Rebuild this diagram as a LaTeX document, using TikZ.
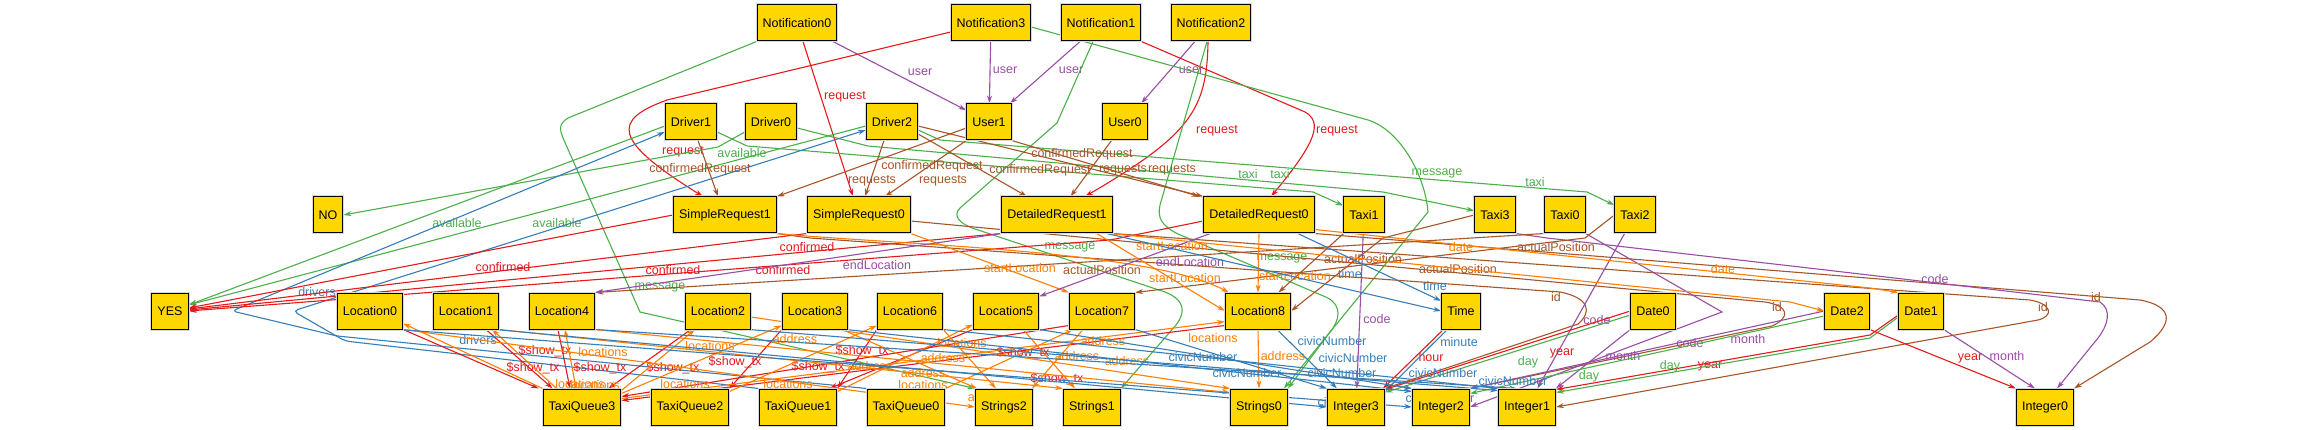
\documentclass[tikz,border=0pt]{standalone}
\usepackage{fontspec}
\setmainfont{Liberation Sans}
\usetikzlibrary{arrows.meta}
\definecolor{gold}{RGB}{255,215,0}
\definecolor{xR}{RGB}{228,26,28}
\definecolor{xB}{RGB}{55,126,184}
\definecolor{xG}{RGB}{77,175,74}
\definecolor{xP}{RGB}{152,78,163}
\definecolor{xO}{RGB}{255,127,0}
\definecolor{xN}{RGB}{166,86,40}
\pgfdeclarelayer{back}
\pgfdeclarelayer{edges}
\pgfsetlayers{back,edges,main}
\tikzset{
  box/.style={draw=black, line width=1pt, fill=gold, minimum height=36pt, inner xsep=5.5pt, inner ysep=0pt,
    font=\fontsize{12.5}{14}\selectfont, text=black, preaction={draw=black!15, line width=3pt}},
  edg/.style={line width=1.1pt, -{Stealth[length=8pt,width=5pt]}},
  lab/.style={font=\fontsize{12.5}{14}\selectfont, inner sep=0pt},
  cR/.style={color=xR}, cB/.style={color=xB}, cG/.style={color=xG},
  cP/.style={color=xP}, cO/.style={color=xO}, cN/.style={color=xN}
}
\begin{document}
\begin{tikzpicture}[x=1pt,y=-1pt]
\useasboundingbox (0,0) rectangle (2306,430);
\begin{pgfonlayer}{back}
\fill[white] (0,0) rectangle (2306,430);
\end{pgfonlayer}
% ---------------- nodes
\node[box] (N0) at (797,23) {Notification0};
\node[box] (N3) at (991,23) {Notification3};
\node[box] (N1) at (1101,23) {Notification1};
\node[box] (N2) at (1211,23) {Notification2};
\node[box] (D1) at (691,122) {Driver1};
\node[box] (D0) at (771,122) {Driver0};
\node[box] (D2) at (892,122) {Driver2};
\node[box] (U1) at (989,122) {User1};
\node[box] (U0) at (1125,122) {User0};
\node[box] (NO) at (328,215) {NO};
\node[box] (SR1) at (725,215) {SimpleRequest1};
\node[box] (SR0) at (859,215) {SimpleRequest0};
\node[box] (DR1) at (1057,215) {DetailedRequest1};
\node[box] (DR0) at (1259,215) {DetailedRequest0};
\node[box] (T1) at (1364,215) {Taxi1};
\node[box] (T3) at (1495,215) {Taxi3};
\node[box] (T0) at (1565,215) {Taxi0};
\node[box] (T2) at (1635,215) {Taxi2};
\node[box] (YES) at (170,311) {YES};
\node[box] (L0) at (370,311) {Location0};
\node[box] (L1) at (466,311) {Location1};
\node[box] (L4) at (562,311) {Location4};
\node[box] (L2) at (718,311) {Location2};
\node[box] (L3) at (815,311) {Location3};
\node[box] (L6) at (910,311) {Location6};
\node[box] (L5) at (1006,311) {Location5};
\node[box] (L7) at (1102,311) {Location7};
\node[box] (L8) at (1258,311) {Location8};
\node[box] (Tm) at (1461,311) {Time};
\node[box] (Dt0) at (1653,311) {Date0};
\node[box] (Dt2) at (1847,311) {Date2};
\node[box] (Dt1) at (1921,311) {Date1};
\node[box] (Q3) at (582,407) {TaxiQueue3};
\node[box] (Q2) at (690,407) {TaxiQueue2};
\node[box] (Q1) at (798,407) {TaxiQueue1};
\node[box] (Q0) at (906,407) {TaxiQueue0};
\node[box] (S2) at (1004,407) {Strings2};
\node[box] (S1) at (1092,407) {Strings1};
\node[box] (S0) at (1259,407) {Strings0};
\node[box] (I3) at (1356,407) {Integer3};
\node[box] (I2) at (1441,407) {Integer2};
\node[box] (I1) at (1527,407) {Integer1};
\node[box] (I0) at (2045,407) {Integer0};
% ---------------- edges
\begin{pgfonlayer}{edges}
% user
\draw[edg,cP] (N0) -- (U1) node[lab,at={(920,72)}]{user};
\draw[edg,cP] (N3) -- (U1) node[lab,at={(1005,70)}]{user};
\draw[edg,cP] (N1) -- (U1) node[lab,at={(1071,70)}]{user};
\draw[edg,cP] (N2) -- (U0) node[lab,at={(1191,70)}]{user};
% request
\draw[edg,cR] (N0) -- (SR0) node[lab,at={(845,97)}]{request};
\draw[edg,cR] ([yshift=-9pt]N3.west) -- (667,100) .. controls (612,120) and (612,140) .. ([xshift=-22pt]SR1.north) node[lab,at={(683,152)}]{request};
\draw[edg,cR] (N1.south east) -- (1305,112) .. controls (1322,122) and (1318,140) .. ([xshift=12pt]DR0.north) node[lab,at={(1337,131)}]{request};
\draw[edg,cR] ([xshift=-3pt]N2.south) .. controls (1207,110) and (1190,135) .. ([xshift=28pt]DR1.north) node[lab,at={(1217,131)}]{request};
% message
\draw[edg,cG] (N0.south west) -- (568,118) .. controls (558,124) and (560,130) .. (563,138) -- (640,312) -- (S2.north west) node[lab,at={(660,287)}]{message};
\draw[edg,cG] ([xshift=-8pt]N1.south) -- (1057,123) -- (960,208) .. controls (952,216) and (960,224) .. (975,229) -- (1165,292) .. controls (1185,300) and (1186,312) .. (1176,325) -- (S1.north east) node[lab,at={(1070,247)}]{message};
\draw[edg,cG] ([xshift=-4pt]N2.south) -- (1160,205) .. controls (1157,218) and (1162,226) .. (1178,234) -- (1328,298) .. controls (1342,306) and (1340,320) .. (1330,332) -- (S0.north east) node[lab,at={(1282,258)}]{message};
\draw[edg,cG] ([yshift=-4pt]N3.east) -- (1368,120) .. controls (1400,130) and (1425,175) .. (1428,212) -- ([xshift=-4pt]S0.north east) node[lab,at={(1437,173)}]{message};
% taxi
\draw[edg,cG] ([yshift=-10pt]D1.east) -- (747,146) -- (1313,192) -- (T1) node[lab,at={(1248,174)}]{taxi};
\draw[edg,cG] ([yshift=-6pt]D0.east) -- (868,146) -- (1383,192) -- (T3) node[lab,at={(1280,174)}]{taxi};
\draw[edg,cG] ([yshift=-8pt]D2.east) -- (940,140) -- (1587,192) -- (T2) node[lab,at={(1535,182)}]{taxi};
% available
\draw[edg,cG] ([yshift=-10pt]D0.west) -- (718,147) -- (NO.east) node[lab,at={(742,153)}]{available};
\draw[edg,cG] ([yshift=-4pt]D1.west) -- ([yshift=6pt]YES.east) node[lab,at={(457,223)}]{available};
\draw[edg,cG] ([yshift=-4pt]D2.west) -- ([yshift=6pt]YES.east) node[lab,at={(557,223)}]{available};
% drivers
\draw[edg,cB,rounded corners=5pt] (Q0.north west) -- (337,336) -- (232,311) -- ([yshift=-10pt]D1.west) node[lab,at={(317,292)}]{drivers};
\draw[edg,cB,rounded corners=5pt] (Q1.north west) -- (345,341) -- (293,311) -- ([yshift=-8pt]D2.west) node[lab,at={(478,340)}]{drivers};
% confirmed
\draw[edg,cR] (SR1.west) -- ([yshift=3pt]YES.east) node[lab,at={(503,267)}]{confirmed};
\draw[edg,cR] (SR0.south west) -- ([yshift=2pt]YES.east) node[lab,at={(673,270)}]{confirmed};
\draw[edg,cR] (DR1.south west) -- ([yshift=1pt]YES.east) node[lab,at={(783,270)}]{confirmed};
\draw[edg,cR] ([yshift=-6pt]DR0.west) -- (1110,240) -- (YES.east) node[lab,at={(807,247)}]{confirmed};
% requests / confirmedRequest
\draw[edg,cN] ([xshift=7pt]D1.south) -- ([xshift=-7pt]SR1.north) node[lab,at={(700,169)}]{confirmedRequest};
\draw[edg,cN] ([xshift=-8pt]D2.south) -- ([xshift=6pt]SR0.north) node[lab,at={(872,181)}]{requests};
\draw[edg,cN] (U1.south west) -- ([xshift=26pt]SR0.north) node[lab,at={(932,166)}]{confirmedRequest};
\draw[edg,cN] ([yshift=-6pt]U1.west) -- (SR1.north east) node[lab,at={(943,181)}]{requests};
\draw[edg,cN] ([yshift=-12pt]D2.east) -- ([xshift=-30pt]DR1.north) node[lab,at={(1040,170)}]{confirmedRequest};
\draw[edg,cN] ([yshift=-4pt]D2.east) -- (DR0.north west) node[lab,at={(1082,154)}]{confirmedRequest};
\draw[edg,cN] (U1.south east) -- ([xshift=-4pt]DR0.north west) node[lab,at={(1172,170)}]{requests};
\draw[edg,cN] (U0) -- (DR1) node[lab,at={(1123,170)}]{requests};
% id
\draw[edg,cN] (SR1.south east) -- (810,238) -- (1560,292) .. controls (1590,298) and (1592,312) .. (1578,324) -- (I3.north east) node[lab,at={(1556,297)}]{id};
\draw[edg,cN] ([yshift=-6pt]SR0.east) -- (1765,302) .. controls (1790,306) and (1790,318) .. (1772,326) -- (I2.north east) node[lab,at={(1777,307)}]{id};
\draw[edg,cN] (DR1.south east) -- (2030,300) .. controls (2052,304) and (2054,316) .. (2038,320) -- (I1.east) node[lab,at={(2043,307)}]{id};
\draw[edg,cN] (DR0.south east) -- (2140,300) .. controls (2172,306) and (2174,322) .. (2150,342) -- (I0.north east) node[lab,at={(2096,297)}]{id};
% code
\draw[edg,cP] (T1) -- (I3) node[lab,at={(1377,319)}]{code};
\draw[edg,cP] (T2) -- (I1) node[lab,at={(1597,320)}]{code};
\draw[edg,cP] (T0.south east) -- (1722,312) -- (I2.east) node[lab,at={(1690,343)}]{code};
\draw[edg,cP] (T3.south east) -- (1547,238) -- (1800,267) -- (2100,302) .. controls (2112,310) and (2108,325) .. (2098,338) -- ([xshift=12pt]I0.north) node[lab,at={(1935,279)}]{code};
% actualPosition
\draw[edg,cN] (T1) -- (L8) node[lab,at={(1363,259)}]{actualPosition};
\draw[edg,cN] (T3.west) -- (1383,238) -- (L8.east) node[lab,at={(1458,269)}]{actualPosition};
\draw[edg,cN] (T2.west) -- (1585,238) -- (L7.north east) node[lab,at={(1556,247)}]{actualPosition};
\draw[edg,cN] (T0.south west) -- (L4.north east) node[lab,at={(1102,270)}]{actualPosition};
% startLocation / endLocation
\draw[edg,cO] (SR0.south east) -- (L7.north west) node[lab,at={(1020,268)}]{startLocation};
\draw[edg,cO] (SR1.south east) .. controls (900,245) and (1150,250) .. ([xshift=4pt]L8.north west) node[lab,at={(1172,246)}]{startLocation};
\draw[edg,cO] ([xshift=-16pt]DR1.south east) -- (L8.west) node[lab,at={(1185,278)}]{startLocation};
\draw[edg,cO] (DR0.south) -- (L8.north) node[lab,at={(1295,276)}]{startLocation};
\draw[edg,cP] (DR1.south west) -- (L4.north east) node[lab,at={(877,265)}]{endLocation};
\draw[edg,cP] ([xshift=7pt]DR0.south west) -- ([yshift=-4pt]L5.north east) node[lab,at={(1190,262)}]{endLocation};
% date / time
\draw[edg,cO] ([xshift=-3pt]DR1.south east) -- (1790,302) -- (Dt2.west) node[lab,at={(1461,247)}]{date};
\draw[edg,cO] ([yshift=4pt]DR0.south east) -- (1870,288) -- (Dt1.north west) node[lab,at={(1723,269)}]{date};
\draw[edg,cB] ([xshift=-17pt]DR0.south east) -- ([yshift=10pt]Tm.west) node[lab,at={(1350,274)}]{time};
\draw[edg,cB] ([xshift=-6pt]DR1.south east) -- (Tm.west) node[lab,at={(1435,286)}]{time};
% hour / minute
\draw[edg,cR] ([xshift=2pt]Tm.south west) -- ([xshift=-2pt]I3.north east) node[lab,at={(1431,357)}]{hour};
\draw[edg,cB] ([xshift=6pt]Tm.south west) -- ([yshift=-3pt]I3.north east) node[lab,at={(1459,342)}]{minute};
% dates
\draw[edg,cG] ([yshift=-4pt]Dt0.west) -- ([yshift=-4pt]I3.north east) node[lab,at={(1528,362)}]{day};
\draw[edg,cR] (Dt0.west) -- ([yshift=-1pt]I3.north east) node[lab,at={(1562,353)}]{year};
\draw[edg,cP] (Dt0.south west) -- (I1.north east) node[lab,at={(1623,356)}]{month};
\draw[edg,cP] (Dt2.west) -- (I2.north east) node[lab,at={(1748,339)}]{month};
\draw[edg,cG] ([yshift=-5pt]Dt2.west) -- ([yshift=-5pt]I2.north east) node[lab,at={(1589,376)}]{day};
\draw[edg,cR] ([yshift=-4pt]Dt1.west) -- (1870,335) -- ([yshift=-1pt]I1.north east) node[lab,at={(1710,366)}]{year};
\draw[edg,cG] ([yshift=-6pt]Dt1.west) -- (1870,338) -- ([yshift=-4pt]I1.north east) node[lab,at={(1670,366)}]{day};
\draw[edg,cR] (Dt2.south east) -- (I0.north west) node[lab,at={(1970,358)}]{year};
\draw[edg,cP] (Dt1.south east) -- ([xshift=-10pt]I0.north) node[lab,at={(2007,356)}]{month};
% $show_tx
\draw[edg,cR] (L0.south east) -- ([xshift=-4pt]Q3.north west) node[lab,at={(533,368)}]{\$show\_tx};
\draw[edg,cR] ([xshift=20pt]L1.south) -- ([xshift=10pt]Q3.north west) node[lab,at={(545,351)}]{\$show\_tx};
\draw[edg,cR] ([xshift=-4pt]L4.south) -- ([xshift=-12pt]Q3.north) node[lab,at={(600,368)}]{\$show\_tx};
\draw[edg,cR] ([xshift=6pt]L2.south west) -- ([xshift=-13pt]Q3.north east) node[lab,at={(673,368)}]{\$show\_tx};
\draw[edg,cR] (L3.south west) -- (Q2.north east) node[lab,at={(735,362)}]{\$show\_tx};
\draw[edg,cR] (L6.south west) -- (Q1.north east) node[lab,at={(818,367)}]{\$show\_tx};
\draw[edg,cR] (L5.south west) -- ([xshift=-8pt]Q1.north east) node[lab,at={(862,351)}]{\$show\_tx};
\draw[edg,cR] ([yshift=4pt]L7.south west) -- ([yshift=-8pt]Q3.north east) node[lab,at={(1023,353)}]{\$show\_tx};
\draw[edg,cR] ([yshift=4pt]L8.south west) -- ([yshift=-12pt]Q3.north east) node[lab,at={(1057,379)}]{\$show\_tx};
% locations
\draw[edg,cO] (Q3.north west) -- ([yshift=6pt]L0.south east) node[lab,at={(580,384)}]{locations};
\draw[edg,cO] ([xshift=14pt]Q3.north west) -- ([xshift=26pt]L1.south) node[lab,at={(603,352)}]{locations};
\draw[edg,cO] ([xshift=-6pt]Q3.north) -- ([xshift=3pt]L4.south) node[lab,at={(595,385)}]{locations};
\draw[edg,cO] ([yshift=-2pt]Q3.north east) -- ([xshift=10pt]L2.south west) node[lab,at={(710,346)}]{locations};
\draw[edg,cO] ([yshift=-5pt]Q3.north east) -- ([yshift=4pt]L3.south west) node[lab,at={(685,384)}]{locations};
\draw[edg,cO] ([yshift=-3pt]Q2.north east) -- ([yshift=4pt]L6.south west) node[lab,at={(788,384)}]{locations};
\draw[edg,cO] ([yshift=-3pt]Q1.north east) -- ([yshift=5pt]L5.south west) node[lab,at={(962,343)}]{locations};
\draw[edg,cO] (Q0.north east) -- ([xshift=4pt]L7.south west) node[lab,at={(923,385)}]{locations};
\draw[edg,cO] ([yshift=-10pt]Q3.north east) -- ([yshift=8pt]L8.south west) node[lab,at={(1213,338)}]{locations};
% address
\draw[edg,cO] ([yshift=-6pt]L2.east) -- (S0.north west) node[lab,at={(795,339)}]{address};
\draw[edg,cO] ([xshift=-6pt]L3.south east) -- ([xshift=2pt]S2.north west) node[lab,at={(870,366)}]{address};
\draw[edg,cO] (L6.south east) -- ([xshift=-8pt]S2.north) node[lab,at={(923,373)}]{address};
\draw[edg,cO] (L0.south east) -- (S2.west) node[lab,at={(990,397)}]{address};
\draw[edg,cO] (L1.south east) -- (S1.north west) node[lab,at={(943,358)}]{address};
\draw[edg,cO] (L4.south east) -- ([yshift=-4pt]S0.north west) node[lab,at={(1127,361)}]{address};
\draw[edg,cO] ([xshift=17pt]L5.south) -- ([xshift=-17pt]S1.north) node[lab,at={(1077,356)}]{address};
\draw[edg,cO] ([xshift=-19pt]L7.south) -- ([xshift=28pt]S2.north) node[lab,at={(1103,341)}]{address};
\draw[edg,cO] (L8.south) -- (S0.north) node[lab,at={(1283,356)}]{address};
% civicNumber
\draw[edg,cB] ([xshift=19pt]L8.south) -- ([xshift=-19pt]I3.north) node[lab,at={(1332,341)}]{civicNumber};
\draw[edg,cB] (L7.south east) -- (I3.north west) node[lab,at={(1203,357)}]{civicNumber};
\draw[edg,cB] (L5.south east) -- (I2.north west) node[lab,at={(1247,373)}]{civicNumber};
\draw[edg,cB] (L6.south east) -- (I1.north west) node[lab,at={(1353,358)}]{civicNumber};
\draw[edg,cB] ([xshift=-2pt]L3.south east) -- ([yshift=-3pt]I2.north west) node[lab,at={(1342,373)}]{civicNumber};
\draw[edg,cB] ([xshift=-2pt]L2.south east) -- ([yshift=-2pt]I1.north west) node[lab,at={(1443,373)}]{civicNumber};
\draw[edg,cB] (L4.south east) -- ([xshift=-10pt]I1.north) node[lab,at={(1513,381)}]{civicNumber};
\draw[edg,cB] ([xshift=-4pt]L1.south east) -- (I3.west) node[lab,at={(1352,402)}]{civicNumber};
\draw[edg,cB] ([xshift=-4pt]L0.south east) -- (I2.west) node[lab,at={(1440,398)}]{civicNumber};
\end{pgfonlayer}
\end{tikzpicture}
\end{document}
